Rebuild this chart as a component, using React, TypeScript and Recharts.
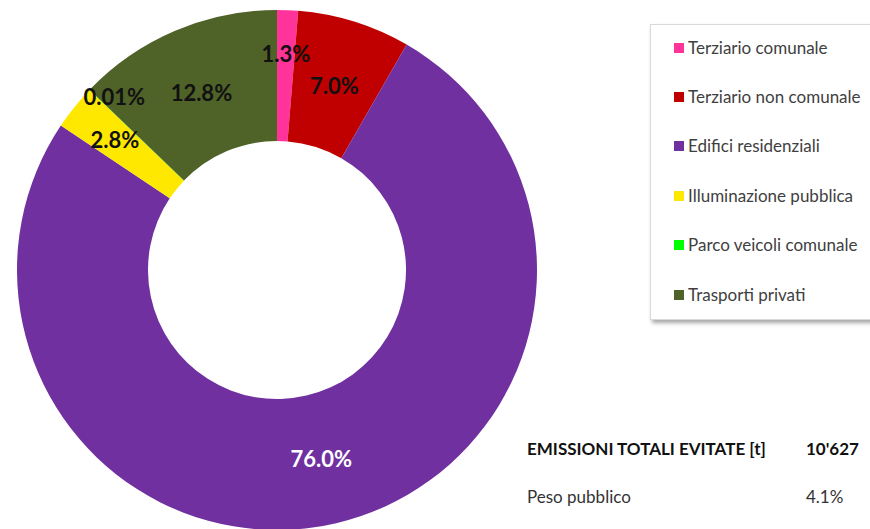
import React from 'react';
import { PieChart, Pie, Cell, Legend } from 'recharts';

const categories = [
  'Terziario comunale',
  'Terziario non comunale',
  'Edifici residenziali',
  'Illuminazione pubblica',
  'Parco veicoli comunale',
  'Trasporti privati',
];
const shares = [1.3, 7.0, 76.0, 2.8, 0.01, 12.8];
const shareLabels = ['1.3%', '7.0%', '76.0%', '2.8%', '0.01%', '12.8%'];
const COLORS = ['#FF3399', '#C00000', '#7030A0', '#FFE800', '#00FF00', '#4F6228'];

const totalLabel = 'EMISSIONI TOTALI EVITATE [t]';
const totalValue = "10'627";
const publicLabel = 'Peso pubblico';
const publicValue = '4.1%';

const data = categories.map((name, i) => ({ name, value: shares[i], label: shareLabels[i] }));

// manual label tweaks (radius, extra angle in degrees) like in the original sheet
const LABEL_POS = [
  { r: 217, da: 0 },
  { r: 193, da: 0 },
  { r: 194, da: 0 },
  { r: 208, da: 0 },
  { r: 238, da: -3 },
  { r: 193, da: 0 },
];

const RAD = Math.PI / 180;
const FONT = 'Lato, "Open Sans", sans-serif';

const renderLabel = (props: any) => {
  const { cx, cy, midAngle, index } = props;
  const p = LABEL_POS[index];
  const a = (midAngle + p.da) * RAD;
  const x = cx + p.r * Math.cos(-a);
  const y = cy + p.r * Math.sin(-a);
  return (
    <text
      x={x}
      y={y}
      textAnchor="middle"
      dominantBaseline="central"
      fill={index === 2 ? '#FFFFFF' : '#111111'}
      fontFamily={FONT}
      fontWeight={700}
      fontSize={22}
    >
      {data[index].label}
    </text>
  );
};

const LegendBox = () => (
  <div
    style={{
      width: 230,
      height: 296,
      background: '#fff',
      border: '1px solid #d9d9d9',
      boxShadow: '2px 3px 4px rgba(0,0,0,0.35)',
      boxSizing: 'border-box',
      paddingTop: 0,
      fontFamily: FONT,
    }}
  >
    {data.map((d, i) => (
      <div key={d.name} style={{ display: 'flex', alignItems: 'center', height: 49.4, marginLeft: 23, marginTop: i === 0 ? -2 : 0 }}>
        <span style={{ width: 10, height: 10, background: COLORS[i], marginRight: 4, flex: 'none' }} />
        <span style={{ fontSize: 17, color: '#404040', lineHeight: '20px', whiteSpace: 'nowrap' }}>{d.name}</span>
      </div>
    ))}
  </div>
);

const txt = (weight: number, color: string): React.CSSProperties => ({
  position: 'absolute',
  fontFamily: FONT,
  fontSize: 17,
  lineHeight: '20px',
  color,
  fontWeight: weight,
  whiteSpace: 'nowrap',
});

export default function App() {
  return (
    <div style={{ position: 'absolute', left: 0, top: 0, width: 870, height: 529, background: '#fff', overflow: 'hidden' }}>
      <PieChart width={870} height={529} margin={{ top: 0, right: 0, bottom: 0, left: 0 }}>
        <Pie
          data={data}
          dataKey="value"
          nameKey="name"
          cx={277}
          cy={270}
          innerRadius={129}
          outerRadius={260}
          startAngle={90}
          endAngle={-270}
          stroke="none"
          label={renderLabel}
          labelLine={false}
          isAnimationActive={false}
        >
          {data.map((d, i) => (
            <Cell key={d.name} fill={COLORS[i]} />
          ))}
        </Pie>
        <Legend
          content={() => <LegendBox />}
          wrapperStyle={{ left: 650, top: 24, width: 230 }}
          layout="vertical"
        />
      </PieChart>
      <div style={{ ...txt(700, '#111'), left: 527, top: 439 }}>{totalLabel}</div>
      <div style={{ ...txt(700, '#111'), left: 806, top: 439 }}>{totalValue}</div>
      <div style={{ ...txt(400, '#333'), left: 527, top: 487 }}>{publicLabel}</div>
      <div style={{ ...txt(400, '#333'), left: 806, top: 487 }}>{publicValue}</div>
    </div>
  );
}
